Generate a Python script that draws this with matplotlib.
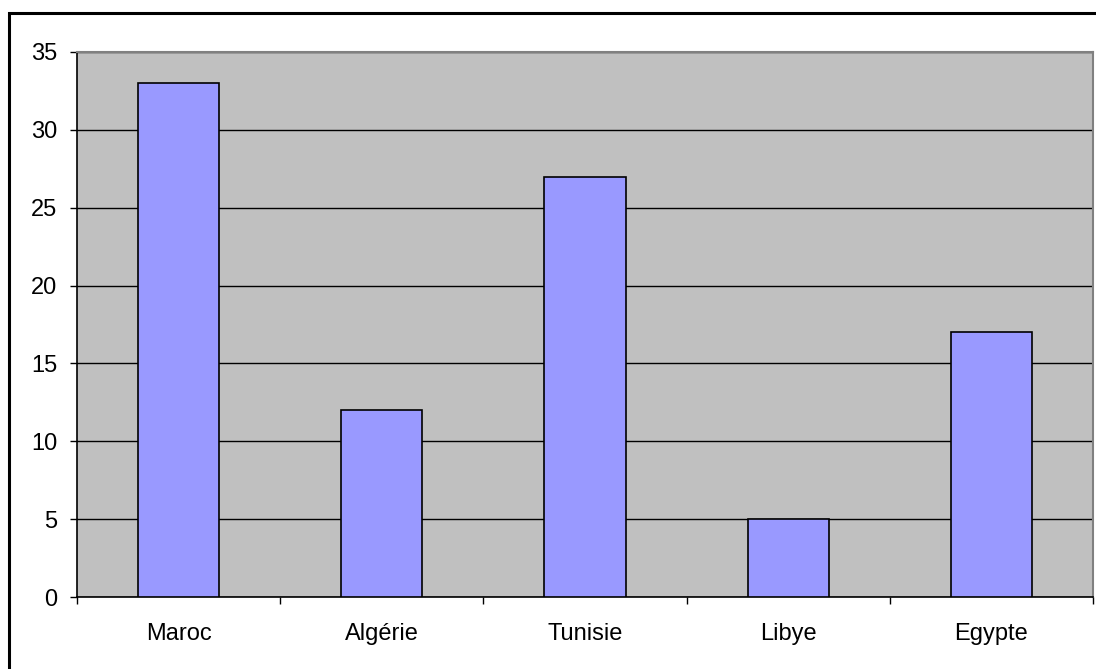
import matplotlib
matplotlib.use("Agg")
import matplotlib.pyplot as plt
from matplotlib.patches import Rectangle

categories = ["Maroc", "Algérie", "Tunisie", "Libye", "Egypte"]
values = [33, 12, 27, 5, 17]
yticks = [0, 5, 10, 15, 20, 25, 30, 35]

plt.rcParams['font.family'] = ['Liberation Sans', 'DejaVu Sans']

W, H = 1096, 669
fig = plt.figure(figsize=(W / 100, H / 100), dpi=100)
fig.patch.set_facecolor('white')

# outer chart frame (extends beyond right/bottom edges)
fig.patches.append(Rectangle((8.5 / W, -0.05), 1.2, 1 - 12.5 / H + 0.05,
                             transform=fig.transFigure, fill=False,
                             edgecolor='black', linewidth=2.2, zorder=0))

ax = fig.add_axes([77 / W, (H - 597) / H, (1093 - 77) / W, (597 - 52) / H])
ax.set_facecolor('#C0C0C0')

x = list(range(len(categories)))
ax.bar(x, values, width=0.4, color='#9999FF', edgecolor='black',
       linewidth=1.2, zorder=3)

ax.set_xlim(-0.5, len(categories) - 0.5)
ax.set_ylim(0, 35)
ax.set_yticks(yticks)
ax.set_yticklabels([str(v) for v in yticks])
ax.yaxis.grid(True, color='black', linewidth=1.0, zorder=1)
ax.set_axisbelow(True)

ax.set_xticks(x)
ax.set_xticklabels(categories)
ax.set_xticks([i - 0.5 for i in range(len(categories) + 1)], minor=True)
ax.tick_params(axis='x', which='major', length=0, pad=19, labelsize=17)
ax.tick_params(axis='x', which='minor', length=5, width=1, color='black', direction='out')
ax.tick_params(axis='y', length=5, width=1, color='black', pad=9, labelsize=17)

for s in ['left', 'bottom']:
    ax.spines[s].set_color('black')
    ax.spines[s].set_linewidth(1.2)
for s in ['top', 'right']:
    ax.spines[s].set_color('#808080')
    ax.spines[s].set_linewidth(1.5)

fig.savefig('out.png', dpi=100)
